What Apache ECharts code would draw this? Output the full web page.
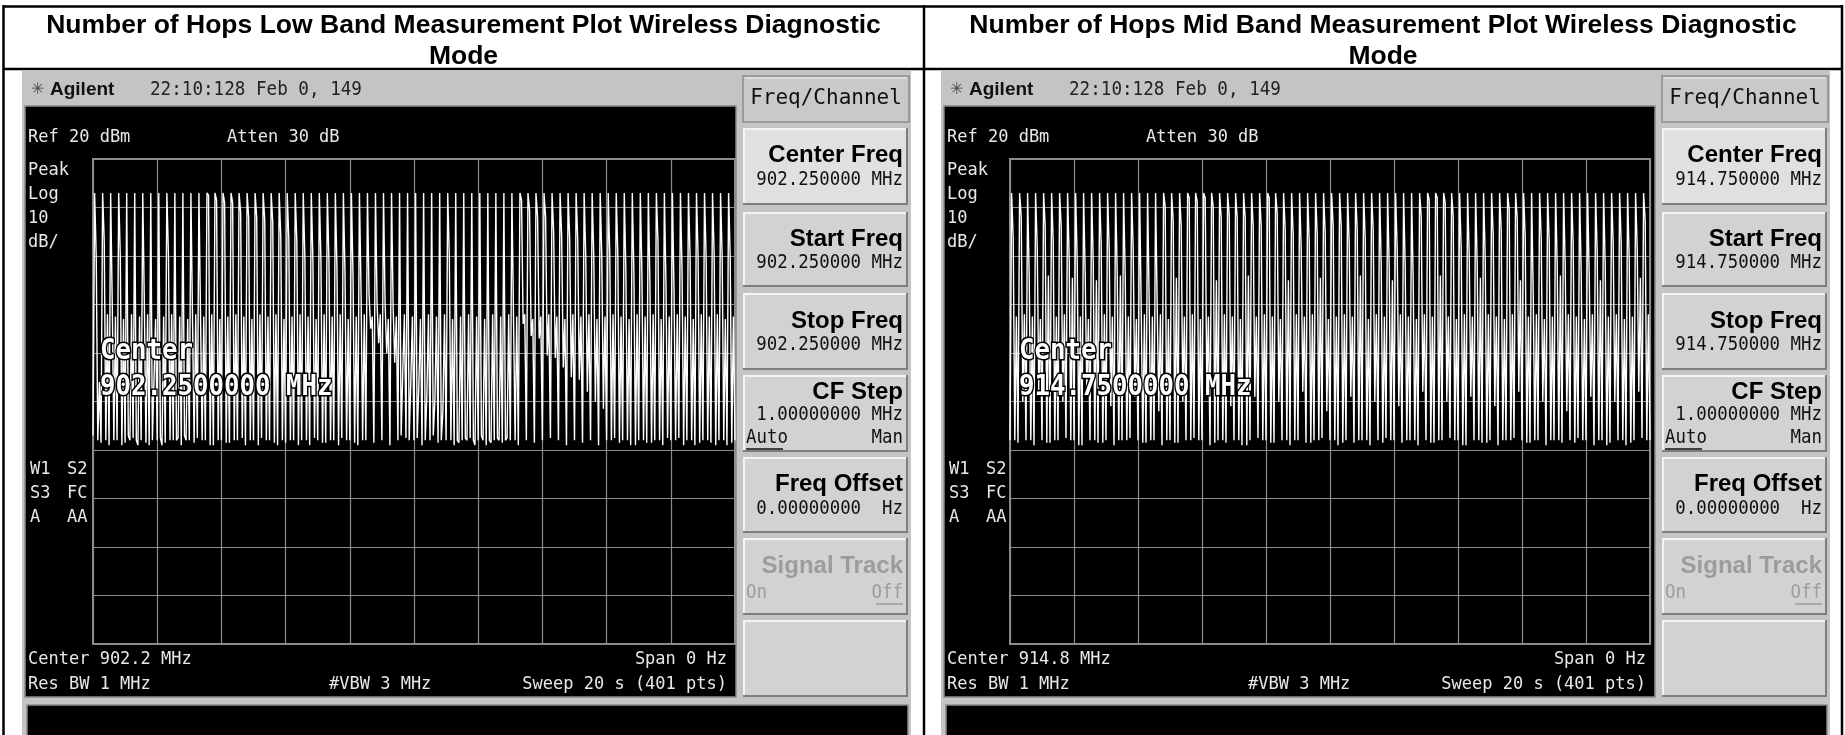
<!DOCTYPE html>
<html><head><meta charset="utf-8">
<script src="https://cdn.jsdelivr.net/npm/echarts@6/dist/echarts.min.js"></script>
<style>html,body{margin:0;padding:0;background:#fff}#c{width:1845px;height:735px}</style>
</head><body><div id="c"></div><script>
// ---------------- data ----------------
const panelTitles = ['Number of Hops Low Band Measurement Plot Wireless Diagnostic', 'Number of Hops Mid Band Measurement Plot Wireless Diagnostic'];
const titleSecondLine = 'Mode';
const centerFreqs = ['902.250000 MHz', '914.750000 MHz'];
const centerShort = ['Center 902.2 MHz', 'Center 914.8 MHz'];
const centerBig = ['902.2500000 MHz', '914.7500000 MHz'];
const refLevel = 20;      // dBm, top of screen
const dbPerDiv = 10;
const sweepPoints = 401;
const yTicks = [-80, -70, -60, -50, -40, -30, -20, -10, 0, 10, 20];
const xTicks = [0, 40, 80, 120, 160, 200, 240, 280, 320, 360, 400];

const traceLow = [
 -37,13,0,-38,-26,      -38.5,13,3,-38,-12,
 -39,13,-10,-38,-12.5,  -38,13,0,-39,-13,
 -38.5,13,-37,-38,-12,  -37.5,13,-38,-39,-12.5,
 -38,13,-10,-38.5,-12,  -39,13,-38,-38,-13,
 -38,13,-37.5,-39,-12.5, -38.5,13,0.5,-38,-12,
 -38,13,-38,-37.5,-12.5, -39,13,-37,-38,-13,
 -38,13,13,-38.5,-12,   -37.5,13,13,-38,-12.5,
 -38,13,12.5,-39,-12,   -39,13,11.5,-38,-13,
 -38,13,11,-38.5,-12.5, -38.5,13,11,-38,-12,
 -38,13,9,-37.5,-12.5,  -39,13,8,-38,-13,
 -38,13,8,-39,-12,      -37.5,13,7.5,-38,-12.5,
 -38,13,7,-38.5,-12,    -39,13,4,-38,-13,
 -38.5,13,3.5,-38,-12.5, -38,13,3,-39,-12,
 -38,13,0,-38,-12.5,    -39,13,-0.5,-37.5,-13,
 -38,13,-0.5,-38.5,-12, -38.5,13,-1,-38,-12.5,
 -38,13,-2.5,-39,-12,   -37.5,13,-3.5,-38,-13,
 -38,13,-4,-38.5,-12.5, -39,13,-7,-38,-12,
 -38,13,-8,-15,-12.5,   -38.5,13,-10,-18,-12,
 -38,13,-10,-20,-13,    -39,13,-10.5,-22,-12.5,
 -38,13,-37,-24,-12,    -37.5,13,-38,-26,-12.5,
 -38,13,-37.5,-27,-13,  -39,13,-38,-29,-12,
 -38,13,-37,-30,-12.5,  -38.5,13,-38,-32,-12,
 -38,13,0,-38,-13,      -39,13,-38,-38.5,-12.5,
 -38,13,-37.5,-38,-12,  -37.5,13,-38,-39,-12.5,
 -38,13,-37,-38,-13,    -39,13,-38,-38.5,-12,
 -38,13,-37.5,-38,-12.5, -38.5,13,-38,-37.5,-12,
 -38,13,13,-38,-12.5,   -39,13,11.5,-14,-12,
 -38,13,9.5,-16.5,-13,  -38.5,13,8,-17,-12.5,
 -38,13,8,-20.5,-12,    -37.5,13,5,-21,-12.5,
 -38,13,4,-23,-13,      -39,13,3.5,-25,-12,
 -38,13,3.5,-25.5,-12.5, -38.5,13,0,-28,-12,
 -38,13,0,-30,-13,      -39,13,-0.1,-31.5,-12.5,
 -38,13,0,-38,-12,      -37.5,13,0,-38.5,-12.5,
 -38,13,-3,-38,-13,     -39,13,-3.5,-39,-12,
 -38,13,-3.5,-38,-12.5, -38.5,13,-6,-38.5,-12,
 -38,13,3,-38,-13,      -39,13,-6,-37.5,-12.5,
 -38,13,-7,-38,-12,     -37.5,13,-3,-39,-12.5,
 -38,13,0,-38,-13,      -39,13,0,-38.5,-12,
 -38,13,0,-38,-12.5,    -38.5,13,0.5,-39,-12,
 -38,13,0,-38,-13,      -39,13,0,-38.5,-12.5,
 -38
];

const traceMid = [
 -38,13,3.7,-38,-12.5,  -38.5,13,8.2,-30,-12,
 -38,13,-4,-38,-12.5,   -39,13,2,-28,-13,
 -38,13,6,-38.5,-4,     -38.5,13,3,-38,-12.5,
 -38,13,6,-30,-12,      -37.5,13,-0.8,-38,-4.5,
 -38,13,-0.8,-39,-12.5, -39,13,-3.9,-28,-13,
 -38,13,-0.8,-38,-5,    -38.5,13,2.3,-38.5,-12,
 -38,13,1.3,-31,-12.5,  -39,13,-3.4,-38,-4,
 -38,13,-3.9,-38,-12.5, -37.5,13,1.3,-29,-13,
 -38,13,-10.4,-38.5,-12, -38.5,13,-9.7,-38,-12.5,
 -38,13,-10.4,-32,-12,  -39,13,10.2,-38,-13,
 -38,13,7.1,-38.5,-4.5, -38.5,13,6.1,-30,-12.5,
 -38,13,12,-38,-12,     -37.5,13,11.2,-38,-13,
 -38,13,12,-28,-12.5,   -39,13,10.2,-38.5,-5,
 -38,13,7.8,-38,-12,    -38.5,13,8.5,-31,-12.5,
 -38,13,7.8,-38,-13,    -39,13,7.8,-39,-4,
 -38,13,6.1,-29,-12.5,  -37.5,13,6.1,-38,-12,
 -38,13,12,-38.5,-12.5, -38.5,13,8.9,-30,-13,
 -38,13,5.4,-38,-5,     -39,13,4.4,-38,-12,
 -38,13,1.3,-28,-12.5,  -38.5,13,3,-38.5,-12,
 -38,13,4.4,-38,-4.5,   -37.5,13,4.7,-32,-13,
 -38,13,6.1,-38,-12.5,  -39,13,6.1,-38.5,-12,
 -38,13,2.6,-29,-12.5,  -38.5,13,5.4,-38,-4,
 -38,13,3.7,-38,-13,    -39,13,5.4,-30,-12,
 -38,13,-1.5,-38.5,-12.5, -37.5,13,-2.2,-38,-5,
 -38,13,1.3,-31,-12,    -38.5,13,-2.2,-38,-12.5,
 -38,13,-5,-38,-13,     -39,13,8.2,-28,-12,
 -38,13,11.6,-38.5,-12.5, -38.5,13,12,-38,-4,
 -38,13,11,-30,-12.5,   -37.5,13,8.2,-38,-13,
 -38,13,1.4,-39,-12,    -39,13,0.3,-29,-12.5,
 -38,13,-1.7,-38,-4.5,  -38.5,13,-0.1,-38.5,-12,
 -38,13,4.4,-31,-12.5,  -39,13,5.4,-38,-13,
 -38,13,9.6,-38,-12,    -37.5,13,7.8,-28,-5,
 -38,13,4,-38.5,-12.5,  -38.5,13,-7.3,-38,-12,
 -38,13,3.7,-30,-13,    -39,13,3,-38,-12.5,
 -38,13,-1.8,-38,-4,    -38.5,13,-1.8,-32,-12,
 -38,13,2.3,-38.5,-12.5, -37.5,13,-3.5,-38,-13,
 -38,13,-3.9,-29,-12,   -39,13,0.6,-38,-5,
 -38,13,-1.8,-39,-12.5, -38.5,13,2.6,-30,-12,
 -38,13,2.6,-38,-13,    -39,13,-0.5,-38.5,-12.5,
 -38,13,1.6,-28,-4.5,   -37.5,13,7.1,-38,-12,
 -38
];

// ---------------- layout helpers ----------------
const MONO = '"DejaVu Sans Mono"';
const SANS = '"Liberation Sans"';
function R(x, y, w, h, fill, z, stroke, lw) {
  return {type:'rect', silent:true, z: z===undefined?-10:z, shape:{x, y, width:w, height:h},
    style:{fill, stroke: stroke||null, lineWidth: lw||0}};
}
function L(x1, y1, x2, y2, color, lw, z) {
  return {type:'line', silent:true, z: z===undefined?-9:z, shape:{x1, y1, x2, y2}, style:{stroke:color, lineWidth:lw||1}};
}
function T(x, y, s, font, fill, align, sx, z, extra) {
  const st = {text:s, font, fill:fill||'#000', textAlign:align||'left', align:align||'left',
              textVerticalAlign:'middle', verticalAlign:'middle'};
  if (extra) Object.assign(st, extra);
  return {type:'text', silent:true, x, y, z: z===undefined?10:z, scaleX: sx||1, style: st};
}
function softKey(els, x, y, w, h, face) {
  els.push(R(x, y, w, h, face, -8));
  els.push(L(x, y+1, x+w, y+1, '#f4f4f4', 2, -7));
  els.push(L(x+1, y, x+1, y+h, '#f4f4f4', 2, -7));
  els.push(L(x, y+h-1, x+w, y+h-1, '#7e7e7e', 2, -7));
  els.push(L(x+w-1, y, x+w-1, y+h, '#7e7e7e', 2, -7));
}

function panel(p, ox) {
  const els = [];
  const disp = '#e8e8e8';
  const m17 = '17px ' + MONO;
  // instrument frame
  els.push(R(ox+22, 71, 889, 680, '#c4c4c4', -12));
  els.push(R(ox+25, 106, 711, 591, '#000', -11, '#8a8a8a', 1.5));
  els.push(R(ox+27, 705, 881, 32, '#000', -11, '#8a8a8a', 1.5));
  // header row
  els.push(T(ox+31, 90, '✳', '16px "DejaVu Sans"', '#444'));
  els.push(T(ox+50, 90, 'Agilent', 'bold 19px ' + SANS, '#111'));
  els.push(T(ox+150, 90, '22:10:128 Feb 0, 149', '20px ' + MONO, '#222', 'left', 0.88));
  // display annotations
  els.push(T(ox+28, 138, 'Ref 20 dBm', m17, disp));
  els.push(T(ox+227, 138, 'Atten 30 dB', m17, disp));
  els.push(T(ox+28, 171, 'Peak', m17, disp));
  els.push(T(ox+28, 195, 'Log', m17, disp));
  els.push(T(ox+28, 219, '10', m17, disp));
  els.push(T(ox+28, 243, 'dB/', m17, disp));
  els.push(T(ox+30, 470, 'W1', m17, disp));
  els.push(T(ox+67, 470, 'S2', m17, disp));
  els.push(T(ox+30, 494, 'S3', m17, disp));
  els.push(T(ox+67, 494, 'FC', m17, disp));
  els.push(T(ox+30, 518, 'A', m17, disp));
  els.push(T(ox+67, 518, 'AA', m17, disp));
  els.push(T(ox+28, 660, centerShort[p], m17, disp));
  els.push(T(ox+727, 660, 'Span 0 Hz', m17, disp, 'right'));
  els.push(T(ox+28, 685, 'Res BW 1 MHz', m17, disp));
  els.push(T(ox+329, 685, '#VBW 3 MHz', m17, disp));
  els.push(T(ox+727, 685, 'Sweep 20 s (401 pts)', m17, disp, 'right'));
  // big centre annotation over the trace (outlined)
  const bf = 'bold 28px ' + MONO;
  const ol = {stroke:'#000', lineWidth:3};
  els.push(T(ox+100, 352, 'Center', bf, '#000', 'left', 0.92, 20, ol));
  els.push(T(ox+100, 388, centerBig[p], bf, '#000', 'left', 0.92, 20, ol));
  els.push(T(ox+100, 352, 'Center', bf, '#fff', 'left', 0.92, 21));
  els.push(T(ox+100, 388, centerBig[p], bf, '#fff', 'left', 0.92, 21));
  // softkeys
  const kx = ox+743, kw = 165, rx = ox+903;
  els.push(R(kx, 76, kw+1, 46, '#c9c9c9', -8, '#8c8c8c', 1.5));
  els.push(L(kx+2, 78, kx+kw-2, 78, '#e6e6e6', 1.5, -7));
  els.push(T(ox+826, 99, 'Freq/Channel', '21px ' + MONO, '#111', 'center'));
  const lab = 'bold 24px ' + SANS;
  const val = '20px ' + MONO;
  const boxes = [[128,77,'#e0e0e0'],[212,75,'#d2d2d2'],[293,77,'#d2d2d2'],[375,77,'#d2d2d2'],[457,76,'#d2d2d2'],[538,77,'#d2d2d2'],[620,77,'#d2d2d2']];
  boxes.forEach(b => softKey(els, kx, b[0], kw, b[1], b[2]));
  els.push(T(rx, 155, 'Center Freq', lab, '#000', 'right'));
  els.push(T(rx, 180, centerFreqs[p], val, '#111', 'right', 0.87));
  els.push(T(rx, 239, 'Start Freq', lab, '#000', 'right'));
  els.push(T(rx, 263, centerFreqs[p], val, '#111', 'right', 0.87));
  els.push(T(rx, 321, 'Stop Freq', lab, '#000', 'right'));
  els.push(T(rx, 345, centerFreqs[p], val, '#111', 'right', 0.87));
  els.push(T(rx, 392, 'CF Step', lab, '#000', 'right'));
  els.push(T(rx, 415, '1.00000000 MHz', val, '#111', 'right', 0.87));
  els.push(T(ox+746, 438, 'Auto', val, '#111', 'left', 0.87));
  els.push(L(ox+746, 449, ox+783, 449, '#111', 1.5, 11));
  els.push(T(rx, 438, 'Man', val, '#111', 'right', 0.87));
  els.push(T(rx, 484, 'Freq Offset', lab, '#000', 'right'));
  els.push(T(rx, 509, '0.00000000  Hz', val, '#111', 'right', 0.87));
  els.push(T(rx, 566, 'Signal Track', lab, '#9c9c9c', 'right'));
  els.push(T(ox+746, 593, 'On', val, '#9c9c9c', 'left', 0.87));
  els.push(T(rx, 593, 'Off', val, '#9c9c9c', 'right', 0.87));
  els.push(L(ox+876, 604, ox+903, 604, '#9c9c9c', 1.5, 11));
  return els;
}

// ---------------- table & titles ----------------
const g = [];
g.push(R(0, 0, 1845, 735, '#fff', -20));
g.push(L(3, 6.5, 1842, 6.5, '#000', 2.5, -5));
g.push(L(3, 69, 1842, 69, '#000', 2.5, -5));
g.push(L(3.5, 5, 3.5, 735, '#000', 2.5, -5));
g.push(L(924, 5, 924, 735, '#000', 2.5, -5));
g.push(L(1842, 5, 1842, 735, '#000', 2.5, -5));
const tf = 'bold 26.5px ' + SANS;
[463.5, 1383].forEach((cx, i) => {
  g.push(T(cx, 26, panelTitles[i], tf, '#000', 'center'));
  g.push(T(cx, 57, titleSecondLine, tf, '#000', 'center'));
});
const graphics = g.concat(panel(0, 0), panel(1, 919));

// ---------------- chart ----------------
const gridCol = '#8c8c8c';
function xAx(gi) {
  return {type:'value', gridIndex:gi, min:xTicks[0], max:xTicks[xTicks.length-1], interval:xTicks[1]-xTicks[0],
    axisLine:{show:false}, axisTick:{show:false}, axisLabel:{show:false},
    splitLine:{show:true, lineStyle:{color:gridCol, width:1.2}}};
}
function yAx(gi) {
  return {type:'value', gridIndex:gi, min:yTicks[0], max:refLevel, interval:dbPerDiv,
    axisLine:{show:false}, axisTick:{show:false}, axisLabel:{show:false},
    splitLine:{show:true, lineStyle:{color:gridCol, width:1.2}}};
}
function ser(i, arr) {
  return {type:'line', xAxisIndex:i, yAxisIndex:i, data: arr.map((v, k) => [k, v]),
    showSymbol:false, symbol:'none', animation:false, clip:true, z:5,
    lineStyle:{color:'#ffffff', width:1.4}};
}
const chart = echarts.init(document.getElementById('c'), null, {renderer:'canvas'});
chart.setOption({
  backgroundColor:'#fff',
  animation:false,
  grid:[
    {left:93, top:159, width:642, height:485, show:true, borderColor:gridCol, borderWidth:2, backgroundColor:'transparent'},
    {left:1010, top:159, width:640, height:485, show:true, borderColor:gridCol, borderWidth:2, backgroundColor:'transparent'}
  ],
  xAxis:[xAx(0), xAx(1)],
  yAxis:[yAx(0), yAx(1)],
  series:[ser(0, traceLow), ser(1, traceMid)],
  graphic:{elements: graphics}
});
</script></body></html>
